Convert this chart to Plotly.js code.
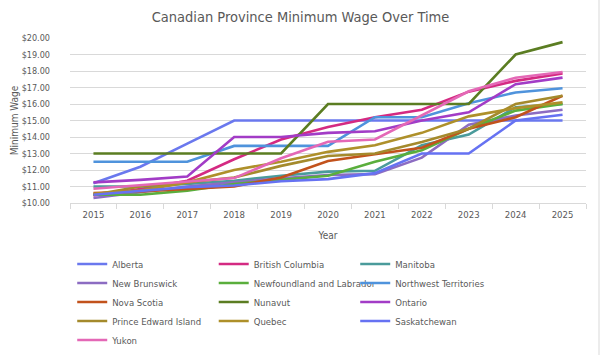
<!DOCTYPE html>
<html>
<head>
<meta charset="utf-8">
<script src="https://cdn.plot.ly/plotly-3.0.1.min.js"></script>
<style>html,body{margin:0;padding:0;background:#fff;}#chart{width:601px;height:355px;}</style>
</head>
<body>
<div id="chart"></div>
<script>
const years = ['2015','2016','2017','2018','2019','2020','2021','2022','2023','2024','2025'];

const alberta      = [11.20, 12.20, 13.60, 15.00, 15.00, 15.00, 15.00, 15.00, 15.00, 15.00, 15.00];
const britishCol   = [10.45, 10.85, 11.35, 12.65, 13.85, 14.60, 15.20, 15.65, 16.75, 17.40, 17.85];
const manitoba     = [11.00, 11.00, 11.15, 11.35, 11.65, 11.90, 11.95, 13.50, 14.15, 15.80, 16.00];
const newBrunswick = [10.30, 10.65, 11.00, 11.25, 11.50, 11.70, 11.75, 12.75, 14.75, 15.30, 15.65];
const newfoundland = [10.50, 10.50, 10.75, 11.15, 11.40, 11.65, 12.50, 13.20, 14.50, 15.60, 16.00];
const nwt          = [12.50, 12.50, 12.50, 13.46, 13.46, 13.46, 15.20, 15.20, 16.05, 16.70, 16.95];
const novaScotia   = [10.60, 10.70, 10.85, 11.00, 11.55, 12.55, 12.95, 13.35, 14.50, 15.20, 16.50];
const nunavut      = [13.00, 13.00, 13.00, 13.00, 13.00, 16.00, 16.00, 16.00, 16.00, 19.00, 19.75];
const ontario      = [11.25, 11.40, 11.60, 14.00, 14.00, 14.25, 14.35, 15.00, 15.50, 17.20, 17.60];
const pei          = [10.50, 11.00, 11.25, 11.55, 12.25, 12.85, 13.00, 13.70, 14.50, 16.00, 16.50];
const quebec       = [10.55, 10.75, 11.25, 12.00, 12.50, 13.10, 13.50, 14.25, 15.25, 15.75, 16.10];
const saskatchewan = [10.50, 10.72, 10.96, 11.06, 11.32, 11.45, 11.81, 13.00, 13.00, 15.00, 15.35];
const yukon        = [10.86, 11.07, 11.32, 11.51, 12.71, 13.71, 13.85, 15.30, 16.77, 17.59, 17.94];

const names = ['Alberta','British Columbia','Manitoba','New Brunswick','Newfoundland and Labrador',
  'Northwest Territories','Nova Scotia','Nunavut','Ontario','Prince Edward Island','Quebec',
  'Saskatchewan','Yukon'];
const series = [alberta, britishCol, manitoba, newBrunswick, newfoundland, nwt, novaScotia,
  nunavut, ontario, pei, quebec, saskatchewan, yukon];
const colors = ['#6A78EE','#D42A82','#4A9B9B','#8C6CC2','#5AAE3C','#4F93DC','#C2521C',
  '#5B7D22','#A23CC6','#A48A2C','#AE902A','#6672F2','#E468B6'];

const FONT = '"Liberation Sans Narrow", "DejaVu Sans Condensed", "Roboto", sans-serif';
const GREY = '#595959';

const traces = names.map((n, i) => ({
  type: 'scatter', mode: 'lines', name: n, x: years, y: series[i],
  line: {color: colors[i], width: 2.6}
}));

const layout = {
  width: 601, height: 355,
  margin: {l: 70, r: 15, t: 38, b: 152, autoexpand: false},
  paper_bgcolor: '#fff', plot_bgcolor: '#fff',
  font: {family: FONT, color: GREY, size: 9.5},
  title: {text: 'Canadian Province Minimum Wage Over Time', font: {family: FONT, size: 14.5, color: GREY},
    x: 0.5, xanchor: 'center', y: 0.952, yref: 'container', yanchor: 'middle'},
  xaxis: {type: 'category', range: [-0.5, 10.5], showgrid: false, showline: true, linecolor: '#D9D9D9', linewidth: 1,
    ticks: 'outside', tickson: 'boundaries', ticklen: 5, tickcolor: '#D9D9D9', ticklabelstandoff: 3,
    tickfont: {family: FONT, size: 9.5, color: GREY},
    title: {text: 'Year', font: {family: FONT, size: 10, color: GREY}, standoff: 12}},
  yaxis: {range: [10, 20], dtick: 1, tickprefix: '$', tickformat: '.2f', showgrid: true, gridcolor: '#D9D9D9',
    gridwidth: 1, zeroline: false, showline: false, ticks: '', ticklabelstandoff: 19,
    tickfont: {family: FONT, size: 9, color: GREY},
    title: {text: 'Minimum Wage', font: {family: FONT, size: 10, color: GREY}, standoff: 1}},
  showlegend: true,
  legend: {orientation: 'h', x: 0.0043, xanchor: 'left', y: -0.282, yanchor: 'top',
    entrywidth: 96.5, entrywidthmode: 'pixels', traceorder: 'normal', itemwidth: 30,
    font: {family: FONT, size: 9.5, color: GREY}, bgcolor: 'rgba(0,0,0,0)'},
  shapes: [{type: 'line', xref: 'paper', yref: 'paper', x0: (599-70)/516, x1: (599-70)/516,
    y0: (203-355)/165, y1: (203-0)/165, line: {color: '#D9D9D9', width: 1}}]
};

Plotly.newPlot('chart', traces, layout, {staticPlot: true, displayModeBar: false});
</script>
</body>
</html>
